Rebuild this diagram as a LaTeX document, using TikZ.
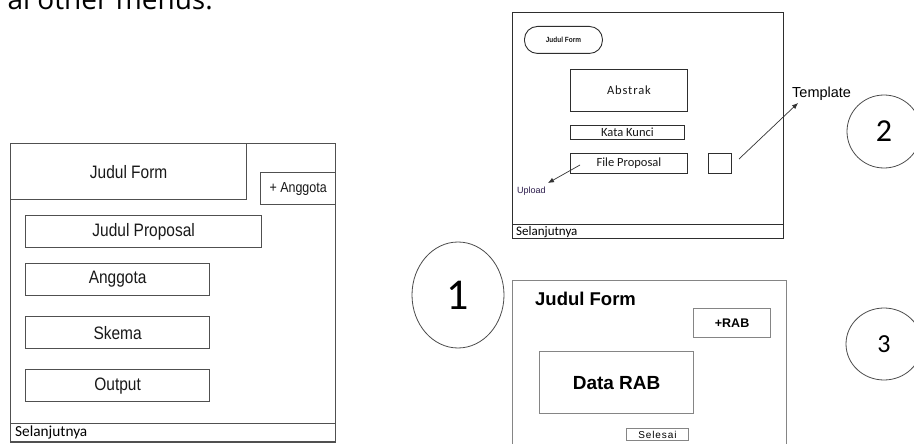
\documentclass[tikz,border=0pt]{standalone}
\usepackage{fontspec}
\setmainfont{Liberation Sans}
\newfontfamily\narrowsf[FakeStretch=0.86]{Liberation Sans}
\newfontfamily\calibsf{Carlito}
\newfontfamily\widecalib[LetterSpace=7]{Carlito}
\newfontfamily\widesf[LetterSpace=9]{Liberation Sans}
\newfontfamily\opensf{Open Sans}
\usetikzlibrary{shapes.geometric,arrows.meta}
\newcommand\setfs[1]{\fontsize{#1}{#1}\selectfont}
\definecolor{lcol}{HTML}{505050}
\definecolor{mcol}{HTML}{2E2E2E}
\definecolor{rcol}{HTML}{858585}
\definecolor{upcol}{HTML}{2A1A4A}

\tikzset{
  lbox/.style={draw=lcol, line width=1.3pt, inner sep=0pt, anchor=north west,
    font=\narrowsf\setfs{18}, text=black!90},
  mbox/.style={draw=mcol, line width=0.9pt, inner sep=0pt, anchor=north west,
    font=\calibsf\setfs{12.5}, text=black!90},
  rbox/.style={draw=rcol, line width=1.2pt, inner sep=0pt, anchor=north west,
    font=\bfseries\setfs{19}, text=black},
  numring/.style={draw=black!70, line width=0.8pt, ellipse, inner sep=0pt,
    font=\calibsf, text=black},
  pointer/.style={draw=black!80, line width=0.7pt, -{Latex[length=6pt,width=5pt]}},
}

\begin{document}
\begin{tikzpicture}[x=1pt,y=-1pt]
\path[use as bounding box, clip] (0,0) rectangle (914,444);
\fill[white] (0,0) rectangle (914,444);

% caption line running off the top edge
\node[anchor=base east, font=\opensf\setfs{28}, inner sep=0pt] (menus) at (213,10) {al other menus.};

% ---------- form 1: proposal details ----------
\node[lbox, minimum width=325, minimum height=298] (lframe) at (10,143) {};
\node[lbox, minimum width=325, minimum height=19] (lbar) at (10,423) {};
\node[anchor=base west, inner sep=0pt, font=\calibsf\setfs{15.3}] (lnext) at (15,436) {Selanjutnya};
\node[lbox, minimum width=236, minimum height=56] (ltitle) at (10,143) {Judul Form};
\node[lbox, minimum width=75, minimum height=32, font=\narrowsf\setfs{14.5}] (ladd) at (260,172) {+ Anggota};
\node[lbox, minimum width=236, minimum height=32] (lprop) at (25,215) {Judul Proposal};
\node[lbox, minimum width=184, minimum height=32] (lmember) at (25,263) {Anggota};
\node[lbox, minimum width=184, minimum height=32] (lscheme) at (25,316) {Skema};
\node[lbox, minimum width=184, minimum height=32] (loutput) at (25,369) {Output};

% ---------- form 2: abstract and file ----------
\node[mbox, minimum width=271, minimum height=226] (mframe) at (512,12) {};
\node[mbox, minimum width=271, minimum height=14] (mbar) at (512,224) {};
\node[anchor=base west, inner sep=0pt, font=\calibsf\setfs{13}] (mnext) at (516,235) {Selanjutnya};
\node[mbox, rounded corners=13pt, minimum width=78, minimum height=27,
      font=\narrowsf\bfseries\setfs{7.5}] (mtitle) at (524,26) {Judul Form};
\node[mbox, minimum width=117, minimum height=42, font=\widecalib\setfs{12.5}] (mabs) at (570,69) {Abstrak};
\node[mbox, minimum width=114, minimum height=14] (mkey) at (570,125) {Kata Kunci};
\node[mbox, minimum width=117, minimum height=20] (mfile) at (570,153) {File Proposal};
\node[mbox, minimum width=23, minimum height=20] (mtpl) at (708,153) {};
\node[anchor=base west, inner sep=0pt, font=\setfs{14.5}] (tpltext) at (792,98) {Template};
\node[anchor=base west, inner sep=0pt, font=\setfs{9}, text=upcol] (uptext) at (517,193) {Upload};
\coordinate (tplstart) at (739,159);
\coordinate (tplend) at (798,103);
\coordinate (upstart) at (580,165);
\coordinate (upend) at (548,183);
\draw[pointer] (tplstart) -- (tplend);
\draw[pointer] (upstart) -- (upend);

% ---------- form 3: budget ----------
\node[rbox, minimum width=274, minimum height=200] (rframe) at (512,280) {};
\node[anchor=base west, inner sep=0pt, font=\bfseries\setfs{18.5}] (rtitle) at (535,305) {Judul Form};
\node[rbox, minimum width=77, minimum height=29, font=\bfseries\setfs{12.5}] (radd) at (693,308) {+RAB};
\node[rbox, minimum width=154, minimum height=62] (rdata) at (539,351) {Data RAB};
\node[rbox, line width=0.9pt, minimum width=62, minimum height=12, font=\widesf\setfs{10}] (rdone) at (626,428) {Selesai};

% ---------- step numbers ----------
\node[numring, minimum width=92, minimum height=106, font=\calibsf\setfs{44}] (n1) at (458,295) {1};
\node[numring, minimum width=74, minimum height=73, font=\calibsf\setfs{32}] (n2) at (884,131.5) {2};
\node[numring, minimum width=76, minimum height=72, font=\calibsf\setfs{26}] (n3) at (884,344) {3};
\end{tikzpicture}
\end{document}
